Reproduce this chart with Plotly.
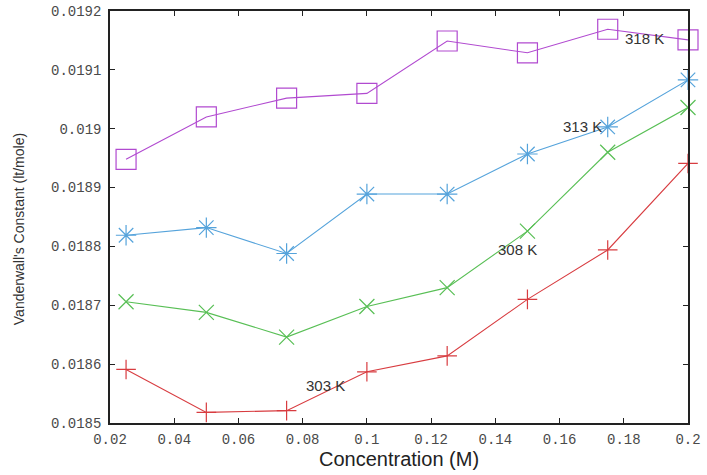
import plotly.graph_objects as go

conc = [0.025, 0.05, 0.075, 0.1, 0.125, 0.15, 0.175, 0.2]
k303 = [0.018591, 0.018518, 0.018521, 0.018587, 0.018614, 0.018710, 0.018794, 0.018941]
k308 = [0.018706, 0.018688, 0.018646, 0.018698, 0.018730, 0.018826, 0.018960, 0.019036]
k313 = [0.018819, 0.018832, 0.018788, 0.018889, 0.018889, 0.018957, 0.019003, 0.019083]
k318 = [0.018948, 0.019020, 0.019052, 0.019060, 0.019149, 0.019129, 0.019169, 0.019151]

series_names = ["303 K", "308 K", "313 K", "318 K"]
label_x = [0.087, 0.147, 0.167, 0.1865]
label_y = [0.018564, 0.018794, 0.019003, 0.019154]

x_ticks = [0.02, 0.04, 0.06, 0.08, 0.1, 0.12, 0.14, 0.16, 0.18, 0.2]
x_tick_text = ["0.02", "0.04", "0.06", "0.08", "0.1", "0.12", "0.14", "0.16", "0.18", "0.2"]
y_ticks = [0.0185, 0.0186, 0.0187, 0.0188, 0.0189, 0.019, 0.0191, 0.0192]
y_tick_text = ["0.0185", "0.0186", "0.0187", "0.0188", "0.0189", "0.019", "0.0191", "0.0192"]

colors = ["#d83c40", "#58bf55", "#55a3db", "#b14ad0"]
symbols = ["cross-thin-open", "x-thin-open", "asterisk-open", "square-open"]
sizes = [14, 15, 17, 20]

fig = go.Figure()
for ys, name, c, s, sz in zip([k303, k308, k313, k318], series_names, colors, symbols, sizes):
    fig.add_trace(go.Scatter(
        x=conc, y=ys, mode="lines+markers", name=name,
        line=dict(color=c, width=1.1),
        marker=dict(symbol=s, size=sz, color=c, line=dict(color=c, width=1.2)),
        showlegend=False, cliponaxis=False,
    ))

for name, lx, ly in zip(series_names, label_x, label_y):
    fig.add_annotation(x=lx, y=ly, text=name, showarrow=False,
                       font=dict(family="Liberation Sans, Arial", size=15, color="#333"),
                       xanchor="center", yanchor="middle")

fig.add_annotation(xref="paper", yref="paper", x=0.5, y=-0.087, yanchor="middle",
                   text="Concentration (M)", showarrow=False,
                   font=dict(family="Liberation Sans, Arial", size=20, color="#222"))
fig.add_annotation(xref="paper", yref="paper", x=-0.156, y=0.47, xanchor="center",
                   text="Vanderwall's Constant (lt/mole)", showarrow=False, textangle=-90,
                   font=dict(family="Liberation Sans, Arial", size=14, color="#333"))

axis_common = dict(
    showline=True, linecolor="#222", linewidth=1.5, mirror="ticks",
    ticks="inside", ticklen=5, tickcolor="#222", tickwidth=1.2,
    showgrid=False, zeroline=False, automargin=False, ticklabeloverflow="allow",
    tickfont=dict(family="Liberation Mono, Courier New, monospace", size=14, color="#4a4a4a"),
)

fig.update_xaxes(range=[0.02, 0.2], tickvals=x_ticks, ticktext=x_tick_text,
                 ticklabelstandoff=2, **axis_common)
fig.update_yaxes(range=[0.0185, 0.0192], tickvals=y_ticks, ticktext=y_tick_text,
                 ticklabelstandoff=4, **axis_common)

fig.update_layout(
    width=707, height=475,
    margin=dict(l=110, r=19, t=11, b=52),
    plot_bgcolor="white", paper_bgcolor="white",
)

fig.write_html("out.html", config={"displayModeBar": False},
               post_script="document.body.style.margin='0';")
